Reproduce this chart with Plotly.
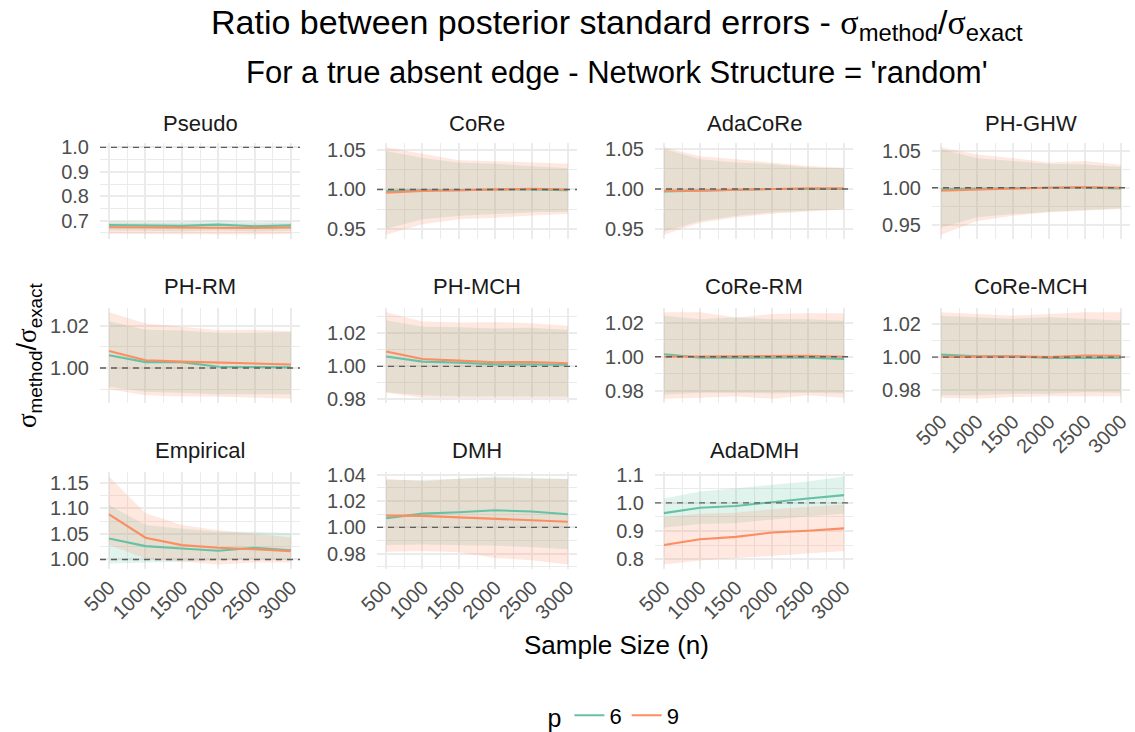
import plotly.graph_objects as go

# ---------------- data ----------------
n_sizes = [500, 1000, 1500, 2000, 2500, 3000]
methods = ["Pseudo", "CoRe", "AdaCoRe", "PH-GHW", "PH-RM", "PH-MCH",
           "CoRe-RM", "CoRe-MCH", "Empirical", "DMH", "AdaDMH"]

mean_p6 = {
    "Pseudo":    [0.682, 0.680, 0.679, 0.684, 0.677, 0.681],
    "CoRe":      [0.998, 0.999, 0.999, 1.000, 1.000, 0.999],
    "AdaCoRe":   [0.997, 0.998, 0.999, 1.000, 1.000, 1.000],
    "PH-GHW":    [0.998, 0.999, 0.999, 1.000, 1.000, 0.999],
    "PH-RM":     [1.0060, 1.0028, 1.0028, 1.0006, 1.0005, 1.0003],
    "PH-MCH":    [1.0060, 1.0029, 1.0023, 1.0012, 1.0012, 1.0010],
    "CoRe-RM":   [1.0015, 0.9995, 0.9995, 0.9995, 0.9995, 0.9988],
    "CoRe-MCH":  [1.0015, 1.0005, 1.0005, 0.9995, 0.9995, 0.9995],
    "Empirical": [1.041, 1.026, 1.0215, 1.017, 1.0228, 1.018],
    "DMH":       [1.0069, 1.0104, 1.0115, 1.0130, 1.0120, 1.0100],
    "AdaDMH":    [0.9636, 0.983, 0.989, 1.0036, 1.0157, 1.0277],
}
lo_p6 = {
    "Pseudo":    [0.660, 0.658, 0.657, 0.660, 0.656, 0.660],
    "CoRe":      [0.950, 0.962, 0.9665, 0.9687, 0.971, 0.9717],
    "AdaCoRe":   [0.947, 0.960, 0.9667, 0.971, 0.973, 0.975],
    "PH-GHW":    [0.946, 0.960, 0.9644, 0.9676, 0.9704, 0.9722],
    "PH-RM":     [0.9912, 0.9888, 0.9884, 0.9877, 0.9877, 0.9877],
    "PH-MCH":    [0.9845, 0.9825, 0.9819, 0.9819, 0.9817, 0.9817],
    "CoRe-RM":   [0.978, 0.979, 0.979, 0.9785, 0.979, 0.9785],
    "CoRe-MCH":  [0.977, 0.977, 0.978, 0.978, 0.979, 0.9785],
    "Empirical": [0.992, 0.994, 0.9954, 0.9987, 1.0007, 0.9987],
    "DMH":       [0.9865, 0.987, 0.9865, 0.986, 0.985, 0.9834],
    "AdaDMH":    [0.913, 0.925, 0.929, 0.941, 0.953, 0.9614],
}
hi_p6 = {
    "Pseudo":    [0.698, 0.696, 0.696, 0.703, 0.695, 0.697],
    "CoRe":      [1.049, 1.040, 1.034, 1.0326, 1.0296, 1.027],
    "AdaCoRe":   [1.050, 1.037, 1.033, 1.031, 1.027, 1.0256],
    "PH-GHW":    [1.052, 1.040, 1.036, 1.032, 1.0315, 1.028],
    "PH-RM":     [1.022, 1.018, 1.0177, 1.0166, 1.0166, 1.0169],
    "PH-MCH":    [1.028, 1.024, 1.0237, 1.023, 1.0235, 1.022],
    "CoRe-RM":   [1.024, 1.022, 1.023, 1.022, 1.022, 1.021],
    "CoRe-MCH":  [1.025, 1.024, 1.023, 1.024, 1.023, 1.022],
    "Empirical": [1.106, 1.067, 1.060, 1.054, 1.054, 1.051],
    "DMH":       [1.036, 1.036, 1.037, 1.0387, 1.0375, 1.0367],
    "AdaDMH":    [1.0157, 1.040, 1.052, 1.064, 1.076, 1.094],
}
mean_p9 = {
    "Pseudo":    [0.673, 0.672, 0.671, 0.669, 0.670, 0.672],
    "CoRe":      [0.996, 0.998, 0.999, 1.000, 1.001, 1.000],
    "AdaCoRe":   [0.998, 0.998, 0.999, 1.000, 1.001, 1.001],
    "PH-GHW":    [0.996, 0.998, 0.999, 1.000, 1.001, 1.000],
    "PH-RM":     [1.0080, 1.0037, 1.0030, 1.0025, 1.0020, 1.0017],
    "PH-MCH":    [1.0090, 1.0045, 1.0035, 1.0025, 1.0027, 1.0019],
    "CoRe-RM":   [1.0000, 1.0002, 1.0005, 1.0004, 1.0006, 1.0000],
    "CoRe-MCH":  [1.0002, 1.0003, 1.0005, 1.0000, 1.0010, 1.0008],
    "Empirical": [1.088, 1.0424, 1.028, 1.0228, 1.020, 1.0163],
    "DMH":       [1.0089, 1.0087, 1.0076, 1.0064, 1.0054, 1.0043],
    "AdaDMH":    [0.8506, 0.871, 0.8795, 0.895, 0.901, 0.9096],
}
lo_p9 = {
    "Pseudo":    [0.647, 0.646, 0.645, 0.643, 0.644, 0.646],
    "CoRe":      [0.9426, 0.9557, 0.962, 0.964, 0.967, 0.9687],
    "AdaCoRe":   [0.943, 0.958, 0.9645, 0.969, 0.972, 0.9744],
    "PH-GHW":    [0.9366, 0.955, 0.962, 0.9667, 0.969, 0.9713],
    "PH-RM":     [0.990, 0.9872, 0.9866, 0.9866, 0.986, 0.9856],
    "PH-MCH":    [0.984, 0.981, 0.9808, 0.9804, 0.9808, 0.9808],
    "CoRe-RM":   [0.9755, 0.976, 0.9769, 0.9755, 0.9775, 0.976],
    "CoRe-MCH":  [0.9755, 0.975, 0.976, 0.9765, 0.9765, 0.9765],
    "Empirical": [1.028, 1.002, 0.9967, 0.990, 0.994, 0.994],
    "DMH":       [0.9814, 0.982, 0.981, 0.9768, 0.975, 0.9717],
    "AdaDMH":    [0.781, 0.7952, 0.8012, 0.811, 0.8206, 0.829],
}
hi_p9 = {
    "Pseudo":    [0.692, 0.690, 0.689, 0.690, 0.688, 0.690],
    "CoRe":      [1.0535, 1.045, 1.037, 1.036, 1.034, 1.0326],
    "AdaCoRe":   [1.052, 1.041, 1.037, 1.033, 1.0286, 1.0265],
    "PH-GHW":    [1.0546, 1.045, 1.040, 1.034, 1.036, 1.031],
    "PH-RM":     [1.0262, 1.021, 1.0194, 1.0178, 1.018, 1.0173],
    "PH-MCH":    [1.0328, 1.0272, 1.0266, 1.0268, 1.0262, 1.0247],
    "CoRe-RM":   [1.026, 1.026, 1.023, 1.025, 1.0255, 1.0255],
    "CoRe-MCH":  [1.027, 1.026, 1.025, 1.026, 1.027, 1.027],
    "Empirical": [1.162, 1.090, 1.067, 1.057, 1.050, 1.043],
    "DMH":       [1.037, 1.035, 1.037, 1.0375, 1.037, 1.0367],
    "AdaDMH":    [0.949, 0.9614, 0.965, 0.977, 0.9855, 0.994],
}

y_ticks = {
    "Pseudo":    [0.7, 0.8, 0.9, 1.0],
    "CoRe":      [0.95, 1.00, 1.05],
    "AdaCoRe":   [0.95, 1.00, 1.05],
    "PH-GHW":    [0.95, 1.00, 1.05],
    "PH-RM":     [1.00, 1.02],
    "PH-MCH":    [0.98, 1.00, 1.02],
    "CoRe-RM":   [0.98, 1.00, 1.02],
    "CoRe-MCH":  [0.98, 1.00, 1.02],
    "Empirical": [1.00, 1.05, 1.10, 1.15],
    "DMH":       [0.98, 1.00, 1.02, 1.04],
    "AdaDMH":    [0.8, 0.9, 1.0, 1.1],
}
y_decimals = {m: 2 for m in methods}
y_decimals["Pseudo"] = 1
y_decimals["AdaDMH"] = 1
x_ticks = [500, 1000, 1500, 2000, 2500, 3000]
x_minor = [750, 1250, 1750, 2250, 2750]
bottom_panels = {"CoRe-MCH", "Empirical", "DMH", "AdaDMH"}

# ---------------- styling / layout ----------------
W, H = 1135, 732
col_px = [(100, 300), (377, 577), (655, 853), (932, 1130)]
row_px = [(143, 239), (308, 403), (472, 569)]
strip_y = [123, 287, 450]
C6, C9 = "#66C2A5", "#FC8D62"
F6, F9 = "rgba(102,194,165,0.2)", "rgba(252,141,98,0.2)"
FONT = "Liberation Sans, Arial, Helvetica, sans-serif"
SERIF = "Liberation Serif, DejaVu Serif, serif"
GRID = "#EBEBEB"

fig = go.Figure()
layout = dict(
    width=W, height=H, margin=dict(l=0, r=0, t=0, b=0, autoexpand=False),
    paper_bgcolor="white", plot_bgcolor="white",
    font=dict(family=FONT, color="#1A1A1A"),
    showlegend=True,
)
annotations = []
shapes = []

for i, m in enumerate(methods):
    r, c = divmod(i, 4)
    k = i + 1
    xr = "x" if k == 1 else f"x{k}"
    yr = "y" if k == 1 else f"y{k}"
    xkey = "xaxis" if k == 1 else f"xaxis{k}"
    ykey = "yaxis" if k == 1 else f"yaxis{k}"
    x0, x1 = col_px[c]
    y0, y1 = row_px[r]

    # ribbons
    for lo, hi, fc in ((lo_p6, hi_p6, F6), (lo_p9, hi_p9, F9)):
        fig.add_trace(go.Scatter(
            x=n_sizes + n_sizes[::-1], y=hi[m] + lo[m][::-1],
            fill="toself", fillcolor=fc, mode="lines",
            line=dict(width=0, color="rgba(0,0,0,0)"),
            hoverinfo="skip", showlegend=False, xaxis=xr, yaxis=yr))
    # lines
    for mean, col, name in ((mean_p6, C6, "6"), (mean_p9, C9, "9")):
        fig.add_trace(go.Scatter(
            x=n_sizes, y=mean[m], mode="lines", name=name, legendgroup=name,
            line=dict(color=col, width=2.1), showlegend=(i == 0),
            xaxis=xr, yaxis=yr))

    # y range like ggplot (5% expansion, include hline at 1)
    vals = lo_p6[m] + hi_p6[m] + lo_p9[m] + hi_p9[m] + [1.0]
    vmin, vmax = min(vals), max(vals)
    pad = 0.05 * (vmax - vmin)
    yrange = [vmin - pad, vmax + pad]

    majors = y_ticks[m]
    step = majors[1] - majors[0]
    minors = [majors[0] - step / 2 + j * step for j in range(len(majors) + 1)]
    fmt = "{:.%df}" % y_decimals[m]

    layout[xkey] = dict(
        domain=[x0 / W, x1 / W], anchor=yr, range=[375, 3125],
        tickmode="array", tickvals=x_ticks, ticktext=[str(v) for v in x_ticks],
        tickangle=-45, showticklabels=(m in bottom_panels),
        tickfont=dict(size=20, color="#4D4D4D", family=FONT),
        ticks="", ticklabelstandoff=2, automargin=False,
        showgrid=True, gridcolor=GRID, gridwidth=1.6,
        minor=dict(tickvals=x_minor, showgrid=True, gridcolor=GRID, gridwidth=0.8, ticks=""),
        zeroline=False, showline=False, fixedrange=True,
    )
    layout[ykey] = dict(
        domain=[1 - y1 / H, 1 - y0 / H], anchor=xr, range=yrange,
        tickmode="array", tickvals=majors, ticktext=[fmt.format(v) for v in majors],
        tickfont=dict(size=20, color="#4D4D4D", family=FONT),
        ticks="", ticklabelstandoff=10, automargin=False,
        showgrid=True, gridcolor=GRID, gridwidth=1.6,
        minor=dict(tickvals=minors, showgrid=True, gridcolor=GRID, gridwidth=0.8, ticks=""),
        zeroline=False, showline=False, fixedrange=True,
    )

    shapes.append(dict(
        type="line", xref=f"{xr} domain", yref=yr, x0=0, x1=1, y0=1, y1=1,
        line=dict(color="#5E5E5E", width=1.4, dash="6px,5px"), layer="above"))

    annotations.append(dict(
        text=m, x=(x0 + x1) / 2 / W, y=1 - strip_y[r] / H,
        xref="paper", yref="paper", xanchor="center", yanchor="middle",
        showarrow=False, font=dict(size=22, color="#1A1A1A", family=FONT)))

sig = f"<span style='font-family:{SERIF}'>σ</span>"
# title / subtitle
annotations.append(dict(
    text=f"Ratio between posterior standard errors - {sig}<sub>method</sub>/{sig}<sub>exact</sub>",
    x=617 / W, y=1 - 24 / H, xref="paper", yref="paper",
    xanchor="center", yanchor="middle", showarrow=False,
    font=dict(size=34, color="black", family=FONT)))
annotations.append(dict(
    text="For a true absent edge - Network Structure = 'random'",
    x=617 / W, y=1 - 72 / H, xref="paper", yref="paper",
    xanchor="center", yanchor="middle", showarrow=False,
    font=dict(size=31, color="black", family=FONT)))
# axis titles
annotations.append(dict(
    text="Sample Size (n)", x=616 / W, y=1 - 645 / H, xref="paper", yref="paper",
    xanchor="center", yanchor="middle", showarrow=False,
    font=dict(size=26, color="black", family=FONT)))
annotations.append(dict(
    text=f"{sig}<sub>method</sub>/{sig}<sub>exact</sub>",
    x=29 / W, y=1 - 355 / H, xref="paper", yref="paper", textangle=-90,
    xanchor="center", yanchor="middle", showarrow=False,
    font=dict(size=27, color="black", family=FONT)))

layout["annotations"] = annotations
layout["shapes"] = shapes
layout["legend"] = dict(
    orientation="h", x=615 / W, xanchor="center", y=1 - 716 / H, yanchor="middle",
    title=dict(text="p", font=dict(size=25, color="black", family=FONT), side="left"),
    font=dict(size=22, color="black", family=FONT), itemwidth=30,
    bgcolor="rgba(0,0,0,0)",
)
fig.update_layout(**layout)
fig.write_html("out.html")
